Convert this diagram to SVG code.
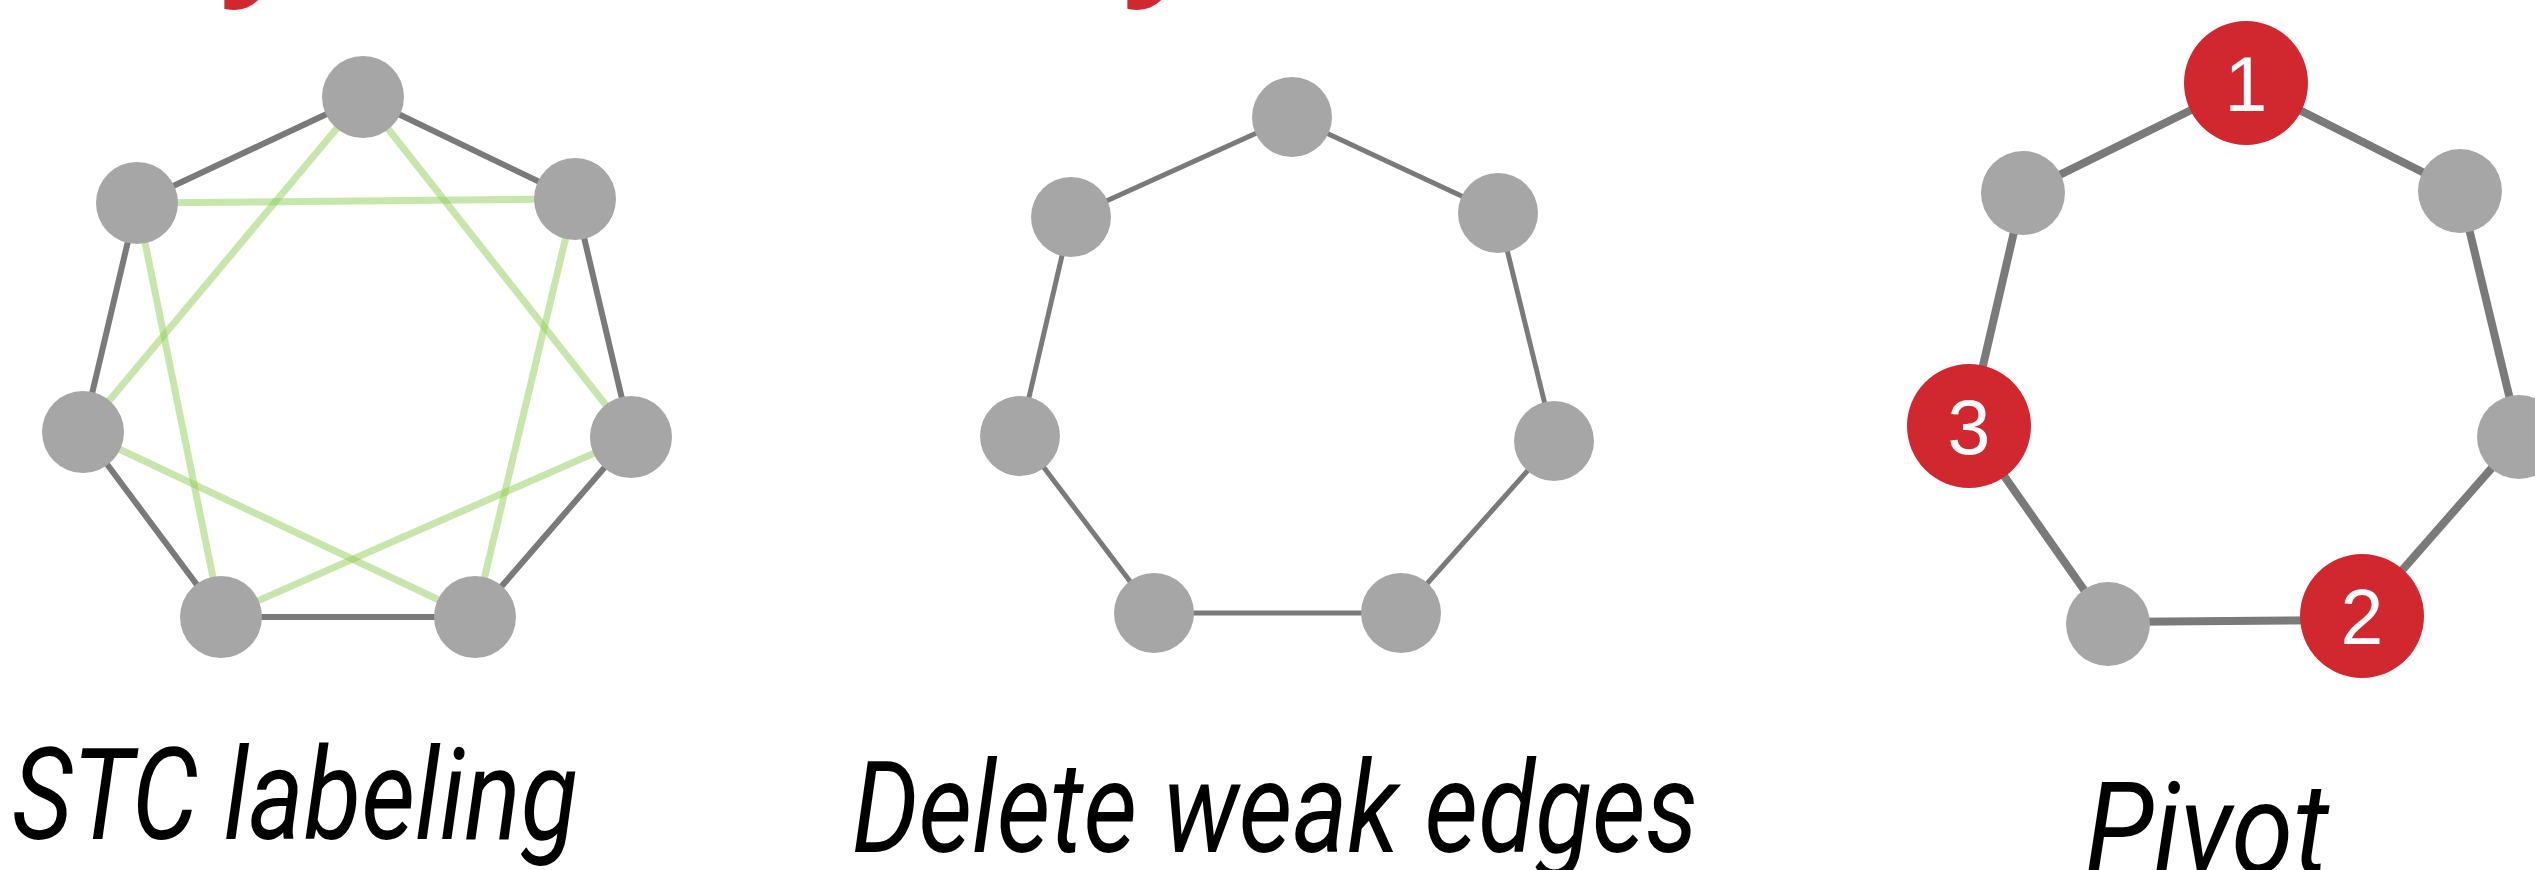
<svg xmlns="http://www.w3.org/2000/svg" width="2535" height="870" viewBox="0 0 2535 870">
<style>
.n{fill:#a6a6a6}
.r{fill:#d1282f}
.e1{stroke:#7a7a7a;stroke-width:6;fill:none}
.e2{stroke:#7a7a7a;stroke-width:5;fill:none}
.e3{stroke:#7a7a7a;stroke-width:8;fill:none}
.g{stroke:#8fce5a;stroke-opacity:0.5;stroke-width:7;fill:none}
.lbl{font-family:Roboto,"Open Sans","Liberation Sans",sans-serif;font-style:italic;font-size:127px;fill:#000}
.num{font-family:"Liberation Sans",Arial,sans-serif;font-size:77px;fill:#fff;text-anchor:middle}
.hd{font-family:"Open Sans","Liberation Sans",sans-serif;font-style:italic;font-weight:bold;font-size:140px;fill:#d1282f}
</style>
<rect width="2535" height="870" fill="#fff"/>
<g id="heading-fragments">
<text class="hd" x="234" y="-24">y</text>
<text class="hd" x="1137" y="-24">y</text>
</g>
<g id="connectors">
<g id="p1-edges">
<line class="e1" x1="363" y1="97" x2="575" y2="199"/>
<line class="e1" x1="575" y1="199" x2="631" y2="437"/>
<line class="e1" x1="631" y1="437" x2="475" y2="617"/>
<line class="e1" x1="475" y1="617" x2="221" y2="617"/>
<line class="e1" x1="221" y1="617" x2="83" y2="432"/>
<line class="e1" x1="83" y1="432" x2="137" y2="203"/>
<line class="e1" x1="137" y1="203" x2="363" y2="97"/>
<line class="g" x1="363" y1="97" x2="631" y2="437"/>
<line class="g" x1="575" y1="199" x2="475" y2="617"/>
<line class="g" x1="631" y1="437" x2="221" y2="617"/>
<line class="g" x1="475" y1="617" x2="83" y2="432"/>
<line class="g" x1="221" y1="617" x2="137" y2="203"/>
<line class="g" x1="83" y1="432" x2="363" y2="97"/>
<line class="g" x1="137" y1="203" x2="575" y2="199"/>
</g>
<g id="p2-edges">
<line class="e2" x1="1292" y1="117" x2="1498" y2="213"/>
<line class="e2" x1="1498" y1="213" x2="1554" y2="441"/>
<line class="e2" x1="1554" y1="441" x2="1401" y2="613"/>
<line class="e2" x1="1401" y1="613" x2="1154" y2="613"/>
<line class="e2" x1="1154" y1="613" x2="1020" y2="436"/>
<line class="e2" x1="1020" y1="436" x2="1071" y2="217"/>
<line class="e2" x1="1071" y1="217" x2="1292" y2="117"/>
</g>
<g id="p3-edges">
<line class="e3" x1="2246" y1="83" x2="2460" y2="191"/>
<line class="e3" x1="2460" y1="191" x2="2519" y2="437"/>
<line class="e3" x1="2519" y1="437" x2="2362" y2="616"/>
<line class="e3" x1="2362" y1="620" x2="2108" y2="622"/>
<line class="e3" x1="2108" y1="624" x2="1969" y2="426"/>
<line class="e3" x1="1969" y1="426" x2="2023" y2="193"/>
<line class="e3" x1="2023" y1="193" x2="2246" y2="83"/>
</g>
</g>
<g id="p1-n0"><circle class="n" cx="363" cy="97" r="41"/></g>
<g id="p1-n1"><circle class="n" cx="575" cy="199" r="41"/></g>
<g id="p1-n2"><circle class="n" cx="631" cy="437" r="41"/></g>
<g id="p1-n3"><circle class="n" cx="475" cy="617" r="41"/></g>
<g id="p1-n4"><circle class="n" cx="221" cy="617" r="41"/></g>
<g id="p1-n5"><circle class="n" cx="83" cy="432" r="41"/></g>
<g id="p1-n6"><circle class="n" cx="137" cy="203" r="41"/></g>
<g id="p2-n0"><circle class="n" cx="1292" cy="117" r="40"/></g>
<g id="p2-n1"><circle class="n" cx="1498" cy="213" r="40"/></g>
<g id="p2-n2"><circle class="n" cx="1554" cy="441" r="40"/></g>
<g id="p2-n3"><circle class="n" cx="1401" cy="613" r="40"/></g>
<g id="p2-n4"><circle class="n" cx="1154" cy="613" r="40"/></g>
<g id="p2-n5"><circle class="n" cx="1020" cy="436" r="40"/></g>
<g id="p2-n6"><circle class="n" cx="1071" cy="217" r="40"/></g>
<g id="p3-n0"><circle class="r" cx="2246" cy="83" r="62"/><text class="num" x="2246" y="111">1</text></g>
<g id="p3-n1"><circle class="n" cx="2460" cy="191" r="42"/></g>
<g id="p3-n2"><circle class="n" cx="2519" cy="437" r="42"/></g>
<g id="p3-n3"><circle class="r" cx="2362" cy="616" r="62"/><text class="num" x="2362" y="644">2</text></g>
<g id="p3-n4"><circle class="n" cx="2108" cy="624" r="42"/></g>
<g id="p3-n5"><circle class="r" cx="1969" cy="426" r="62"/><text class="num" x="1969" y="454">3</text></g>
<g id="p3-n6"><circle class="n" cx="2023" cy="193" r="42"/></g>
<g id="labels">
<text class="lbl" x="12" y="839" textLength="566" lengthAdjust="spacingAndGlyphs">STC labeling</text>
<text class="lbl" x="852" y="852" textLength="846" lengthAdjust="spacingAndGlyphs">Delete weak edges</text>
<text class="lbl" x="2085" y="873" textLength="244" lengthAdjust="spacingAndGlyphs">Pivot</text>
</g>
</svg>
